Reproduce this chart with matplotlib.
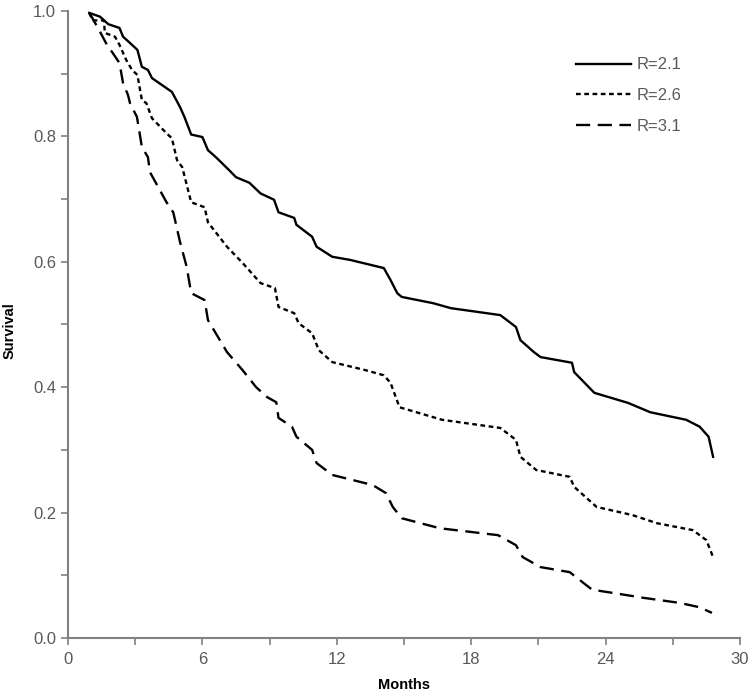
import matplotlib.pyplot as plt

plt.rcParams['font.family'] = ['Liberation Sans', 'DejaVu Sans']

# survival curves (months, survival)
months_21 = [0.95, 1.43, 1.8, 2.3, 2.46, 2.77, 3.1, 3.3, 3.57, 3.75, 4.64, 5.0, 5.2, 5.5, 6.0,
             6.25, 6.6, 7.2, 7.5, 8.1, 8.6, 9.2, 9.4, 10.1, 10.2, 10.9, 11.1, 11.8, 12.6, 14.1,
             14.4, 14.7, 14.9, 16.3, 17.1, 19.3, 20.0, 20.2, 20.8, 21.1, 22.5, 22.6, 23.5,
             25.0, 26.0, 27.6, 28.2, 28.6, 28.8]
surv_21 = [0.997, 0.991, 0.979, 0.973, 0.959, 0.949, 0.938, 0.911, 0.906, 0.893, 0.871, 0.847,
           0.831, 0.803, 0.799, 0.778, 0.767, 0.746, 0.735, 0.726, 0.709, 0.699, 0.679, 0.670,
           0.659, 0.640, 0.624, 0.608, 0.603, 0.590, 0.571, 0.550, 0.544, 0.534, 0.526, 0.515,
           0.496, 0.475, 0.456, 0.448, 0.439, 0.424, 0.391, 0.375, 0.360, 0.348, 0.337, 0.321,
           0.289]

months_26 = [0.95, 1.1, 1.6, 1.65, 2.1, 2.3, 2.6, 2.86, 3.1, 3.3, 3.5, 3.75, 4.4, 4.64, 4.87,
             5.1, 5.5, 6.1, 6.25, 7.1, 7.8, 8.6, 9.24, 9.4, 10.1, 10.3, 10.9, 11.2, 11.8, 13.3,
             14.1, 14.4, 14.8, 16.7, 19.3, 20.0, 20.2, 20.9, 22.4, 22.6, 23.6, 25.2, 26.3, 27.9,
             28.5, 28.8]
surv_26 = [0.997, 0.985, 0.985, 0.965, 0.959, 0.946, 0.922, 0.906, 0.898, 0.858, 0.853, 0.829,
           0.805, 0.797, 0.762, 0.751, 0.695, 0.687, 0.663, 0.624, 0.598, 0.566, 0.558, 0.528,
           0.518, 0.502, 0.486, 0.459, 0.440, 0.427, 0.419, 0.407, 0.368, 0.348, 0.335, 0.316,
           0.289, 0.268, 0.257, 0.241, 0.209, 0.196, 0.183, 0.172, 0.156, 0.129]

months_31 = [0.95, 1.07, 1.43, 1.74, 2.0, 2.3, 2.46, 2.68, 2.77, 3.08, 3.3, 3.57, 3.66, 4.4,
             4.7, 5.0, 5.3, 5.5, 6.1, 6.25, 6.65, 7.1, 7.8, 8.4, 8.9, 9.3, 9.4, 10.0, 10.2, 10.9,
             11.1, 11.8, 13.6, 14.2, 14.5, 14.9, 16.6, 19.2, 20.0, 20.3, 21.1, 22.4, 23.4, 24.3,
             25.7, 27.3, 28.2, 28.75]
surv_31 = [0.997, 0.99, 0.967, 0.946, 0.933, 0.917, 0.885, 0.866, 0.853, 0.831, 0.783, 0.767,
           0.743, 0.695, 0.679, 0.632, 0.592, 0.550, 0.539, 0.507, 0.483, 0.456, 0.427, 0.400,
           0.384, 0.376, 0.351, 0.337, 0.321, 0.300, 0.279, 0.260, 0.244, 0.231, 0.209, 0.191,
           0.175, 0.164, 0.148, 0.129, 0.113, 0.105, 0.077, 0.072, 0.064, 0.056, 0.049, 0.040]

x_ticks = [0, 6, 12, 18, 24, 30]
y_ticks = [0.0, 0.2, 0.4, 0.6, 0.8, 1.0]

grey = '#808080'
text_grey = '#595959'

fig = plt.figure(figsize=(7.51, 6.93), dpi=100)
ax = fig.add_axes([0.0905, 0.0794, 0.8948, 0.9047])

ax.plot(months_21, surv_21, color='black', lw=1.7, label='R=2.1')
ax.plot(months_26, surv_26, color='black', lw=1.7, linestyle=(0, (2, 1.5)), label='R=2.6')
ax.plot(months_31, surv_31, color='black', lw=1.7, linestyle=(0, (6, 3.2)), label='R=3.1')

ax.set_xlim(0, 30)
ax.set_ylim(0, 1.0)
ax.set_xticks(x_ticks)
ax.set_xticks([3, 9, 15, 21, 27], minor=True)
ax.set_yticks(y_ticks)
ax.set_yticks([0.1, 0.3, 0.5, 0.7, 0.9], minor=True)
ax.set_xticklabels([str(t) for t in x_ticks])
ax.set_yticklabels([f'{t:.1f}' for t in y_ticks])

for side in ['top', 'right']:
    ax.spines[side].set_visible(False)
for side in ['left', 'bottom']:
    ax.spines[side].set_color(grey)
    ax.spines[side].set_linewidth(1.5)

ax.tick_params(which='both', direction='out', color=grey, width=1.2, length=5,
               labelcolor=text_grey, labelsize=12)
ax.tick_params(axis='x', pad=5)

ax.set_xlabel('Months', fontsize=10.5, fontweight='bold', labelpad=8)
ax.set_ylabel('Survival', fontsize=10.5, fontweight='bold')
ax.yaxis.set_label_coords(-0.076, 0.49)

leg = ax.legend(loc='upper left', bbox_to_anchor=(0.733, 0.95), frameon=False,
                fontsize=12, handlelength=3.3, handletextpad=0.35, labelspacing=0.95)
for t in leg.get_texts():
    t.set_color(text_grey)

fig.savefig('out.png', dpi=100)
